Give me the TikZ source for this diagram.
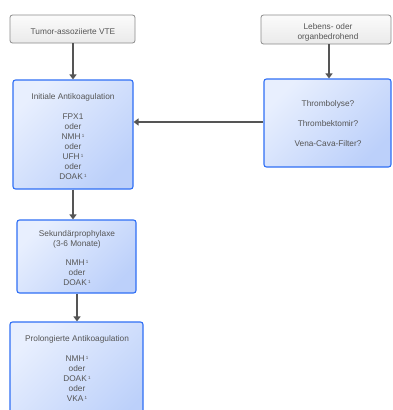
\documentclass[tikz,border=0pt]{standalone}
\usepackage{fontspec}
\setmainfont{Liberation Sans}
\usetikzlibrary{arrows.meta}
\definecolor{blueL}{HTML}{E8EFFE}
\definecolor{blueD}{HTML}{BCD0FA}
\definecolor{blueB}{HTML}{2F6FF5}
\definecolor{grayL}{HTML}{FBFBFB}
\definecolor{grayD}{HTML}{EAEAEA}
\definecolor{grayB}{HTML}{8A8A8A}
\definecolor{txt}{HTML}{555555}
\definecolor{arr}{HTML}{555555}
\newcommand{\sx}{\,\raisebox{0.45ex}{\fontsize{4.5}{5}\selectfont 1}}
\tikzset{
  bluebox/.style={draw=blueB, line width=1.1pt, rounded corners=2.5pt, top color=blueL, bottom color=blueD, shading angle=45, inner sep=0pt},
  graybox/.style={draw=grayB, line width=0.8pt, rounded corners=2.5pt, top color=grayL, bottom color=grayD, inner sep=0pt},
  lbl/.style={text=txt, font=\fontsize{8.3}{10}\selectfont, align=center, inner sep=0pt},
  conn/.style={draw=arr, line width=1.2pt, -{Triangle[width=7pt,length=5pt]}}
}
\begin{document}
\begin{tikzpicture}[x=1pt,y=-1pt]
\useasboundingbox (0,0) rectangle (392,410);
\clip (0,0) rectangle (392,410);
% boxes
\node[graybox, minimum width=125pt, minimum height=28pt] (tumor) at (72.5,29) {};
\node[graybox, minimum width=130pt, minimum height=29pt] (leben) at (326,29.5) {};
\node[bluebox, minimum width=120pt, minimum height=109pt] (init) at (73,134.5) {};
\node[bluebox, minimum width=127pt, minimum height=88pt] (throm) at (327.5,123) {};
\node[bluebox, minimum width=119pt, minimum height=73pt] (sek) at (76.5,256.5) {};
\node[bluebox, minimum width=133pt, minimum height=110pt] (prol) at (76.5,377) {};
% texts (anchor base = baseline of the last line)
\node[lbl, anchor=base] (tumort) at (73,34) {Tumor-assoziierte VTE};
\node[lbl, anchor=base] (lebent) at (328,39) {Lebens- oder\\organbedrohend};
\node[lbl, anchor=base] (initt) at (73,179) {Initiale Antikoagulation\\[10pt]FPX1\\oder\\NMH\sx\\oder\\UFH\sx\\oder\\DOAK\sx};
\node[lbl, anchor=base] (thromt) at (328,146) {Thrombolyse?\\[10pt]Thrombektomir?\\[10pt]Vena-Cava-Filter?};
\node[lbl, anchor=base] (sekt) at (77,285) {Sekundärprophylaxe\\(3-6 Monate)\\[9pt]NMH\sx\\oder\\DOAK\sx};
\node[lbl, anchor=base] (prolt) at (77,401) {Prolongierte Antikoagulation\\[10pt]NMH\sx\\oder\\DOAK\sx\\oder\\VKA\sx};
% connectors
\draw[conn] (tumor.south -| 73,0) -- (init.north -| 73,0);
\draw[conn] (leben.south -| 329,0) -- (throm.north -| 329,0);
\draw[conn] (throm.west |- 0,122) -- (init.east |- 0,122);
\draw[conn] (init.south -| 73,0) -- (sek.north -| 73,0);
\draw[conn] (sek.south -| 77,0) -- (prol.north -| 77,0);
\end{tikzpicture}
\end{document}
